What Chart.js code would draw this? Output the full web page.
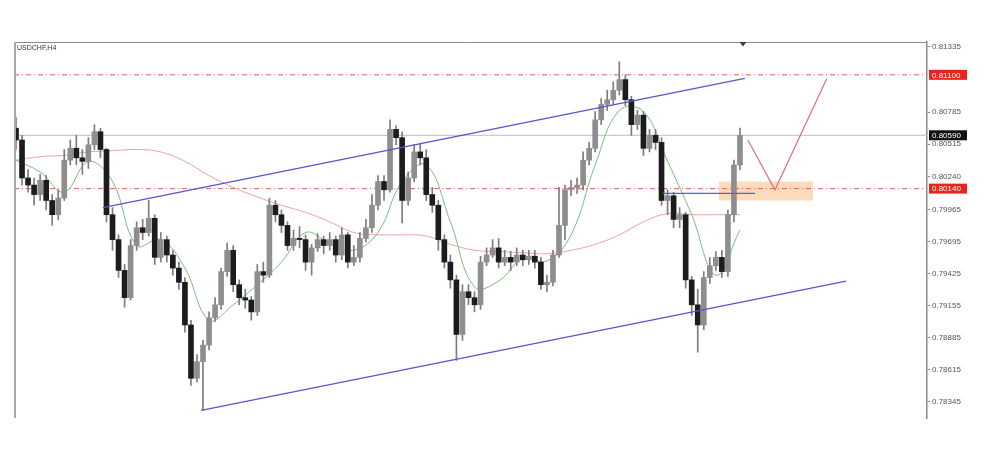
<!DOCTYPE html>
<html>
<head>
<meta charset="utf-8">
<title>USDCHF H4</title>
<script src="https://cdn.jsdelivr.net/npm/chart.js@4.4.1/dist/chart.umd.min.js"></script>
<style>
  body { margin: 0; background: #fff; }
  .wrap { position: relative; width: 1000px; height: 470px; }
</style>
</head>
<body>
<div class="wrap"><canvas id="chart"></canvas></div>
<script>
const symbolLabel = 'USDCHF,H4';

// candles (oldest -> newest)
const opens = [
  0.8065, 0.8055, 0.8023, 0.8017, 0.8009, 0.8021, 0.8004, 0.7992, 0.8006, 0.8038,
  0.8048, 0.8040, 0.8037, 0.8051, 0.8062, 0.8047, 0.7992, 0.7971, 0.7945, 0.7922,
  0.7966, 0.7981, 0.7977, 0.7989, 0.7956, 0.7971, 0.7958, 0.7947, 0.7935, 0.7899,
  0.7854, 0.7868, 0.7882, 0.7905, 0.7916, 0.7944, 0.7962, 0.7933, 0.7922, 0.7920,
  0.7910, 0.7944, 0.7941, 0.8000, 0.7992, 0.7983, 0.7966, 0.7972, 0.7971, 0.7952,
  0.7964, 0.7971, 0.7966, 0.7971, 0.7958, 0.7975, 0.7952, 0.7956, 0.7972, 0.7981,
  0.8000, 0.8020, 0.8013, 0.8064, 0.8057, 0.8004, 0.8023, 0.8045, 0.8040, 0.8009,
  0.8000, 0.7971, 0.7952, 0.7937, 0.7891, 0.7927, 0.7922, 0.7916, 0.7952, 0.7958,
  0.7964, 0.7952, 0.7956, 0.7952, 0.7958, 0.7954, 0.7957, 0.7952, 0.7933, 0.7935,
  0.7958, 0.7983, 0.8013, 0.8015, 0.8017, 0.8038, 0.8048, 0.8072, 0.8085, 0.8089,
  0.8097, 0.8106, 0.8089, 0.8068, 0.8076, 0.8048, 0.8059, 0.8053, 0.8004, 0.8008,
  0.7988, 0.7992, 0.7937, 0.7916, 0.7899, 0.7939, 0.7949, 0.7956, 0.7944, 0.7992,
  0.8034
];
const highs = [
  0.8074, 0.8059, 0.8030, 0.8023, 0.8026, 0.8025, 0.8009, 0.8013, 0.8047, 0.8055,
  0.8059, 0.8047, 0.8057, 0.8068, 0.8065, 0.8048, 0.7998, 0.7975, 0.7950, 0.7971,
  0.7986, 0.7988, 0.8004, 0.7992, 0.7977, 0.7974, 0.7962, 0.7952, 0.7939, 0.7903,
  0.7874, 0.7886, 0.7910, 0.7922, 0.7947, 0.7968, 0.7966, 0.7937, 0.7929, 0.7923,
  0.7950, 0.7952, 0.8006, 0.8004, 0.7996, 0.7986, 0.7979, 0.7982, 0.7975, 0.7967,
  0.7976, 0.7974, 0.7977, 0.7974, 0.7981, 0.7977, 0.7966, 0.7977, 0.7988, 0.8009,
  0.8025, 0.8025, 0.8072, 0.8067, 0.8062, 0.8028, 0.8051, 0.8052, 0.8047, 0.8015,
  0.8004, 0.7975, 0.7958, 0.7941, 0.7933, 0.7933, 0.7927, 0.7957, 0.7964, 0.7971,
  0.7972, 0.7962, 0.7961, 0.7964, 0.7962, 0.7962, 0.7962, 0.7956, 0.7941, 0.7962,
  0.8015, 0.8017, 0.8021, 0.8023, 0.8045, 0.8053, 0.8079, 0.8090, 0.8097, 0.8104,
  0.8121, 0.8110, 0.8092, 0.8080, 0.8079, 0.8064, 0.8064, 0.8057, 0.8013, 0.8011,
  0.7998, 0.7994, 0.7940, 0.7929, 0.7944, 0.7956, 0.7961, 0.7962, 0.7996, 0.8038,
  0.8065
];
const lows = [
  0.8047, 0.8017, 0.8011, 0.8000, 0.8004, 0.7996, 0.7983, 0.7988, 0.8004, 0.8034,
  0.8034, 0.8026, 0.8031, 0.8047, 0.8040, 0.7986, 0.7962, 0.7939, 0.7914, 0.7920,
  0.7962, 0.7971, 0.7974, 0.7950, 0.7952, 0.7952, 0.7941, 0.7929, 0.7893, 0.7848,
  0.7851, 0.7827, 0.7878, 0.7902, 0.7912, 0.7940, 0.7927, 0.7916, 0.7913, 0.7903,
  0.7907, 0.7935, 0.7939, 0.7986, 0.7977, 0.7962, 0.7962, 0.7964, 0.7945, 0.7941,
  0.7961, 0.7959, 0.7962, 0.7952, 0.7954, 0.7947, 0.7949, 0.7952, 0.7969, 0.7977,
  0.7996, 0.8004, 0.8011, 0.8051, 0.7985, 0.8000, 0.8020, 0.8034, 0.8004, 0.7994,
  0.7962, 0.7947, 0.7930, 0.7869, 0.7886, 0.7916, 0.7910, 0.7912, 0.7949, 0.7956,
  0.7947, 0.7949, 0.7945, 0.7949, 0.7949, 0.7950, 0.7947, 0.7929, 0.7927, 0.7932,
  0.7956, 0.7971, 0.8008, 0.8010, 0.8013, 0.8034, 0.8045, 0.8068, 0.8080, 0.8085,
  0.8093, 0.8084, 0.8059, 0.8064, 0.8042, 0.8045, 0.8047, 0.8000, 0.7992, 0.7981,
  0.7981, 0.7930, 0.7907, 0.7876, 0.7895, 0.7934, 0.7945, 0.7939, 0.7940, 0.7986,
  0.8030
];
const closes = [
  0.8055, 0.8023, 0.8017, 0.8009, 0.8021, 0.8004, 0.7992, 0.8006, 0.8038, 0.8048,
  0.8040, 0.8037, 0.8051, 0.8062, 0.8047, 0.7992, 0.7971, 0.7945, 0.7922, 0.7966,
  0.7981, 0.7977, 0.7989, 0.7956, 0.7971, 0.7958, 0.7947, 0.7935, 0.7899, 0.7854,
  0.7868, 0.7882, 0.7905, 0.7916, 0.7944, 0.7962, 0.7933, 0.7922, 0.7920, 0.7910,
  0.7944, 0.7941, 0.8000, 0.7992, 0.7983, 0.7966, 0.7972, 0.7971, 0.7952, 0.7964,
  0.7971, 0.7966, 0.7971, 0.7958, 0.7975, 0.7952, 0.7956, 0.7972, 0.7981, 0.8000,
  0.8020, 0.8013, 0.8064, 0.8057, 0.8004, 0.8023, 0.8045, 0.8040, 0.8009, 0.8000,
  0.7971, 0.7952, 0.7937, 0.7891, 0.7927, 0.7922, 0.7916, 0.7952, 0.7958, 0.7964,
  0.7952, 0.7956, 0.7952, 0.7958, 0.7954, 0.7957, 0.7952, 0.7933, 0.7935, 0.7958,
  0.7983, 0.8013, 0.8015, 0.8017, 0.8038, 0.8048, 0.8072, 0.8085, 0.8089, 0.8097,
  0.8106, 0.8089, 0.8068, 0.8076, 0.8048, 0.8059, 0.8053, 0.8004, 0.8008, 0.7988,
  0.7992, 0.7937, 0.7916, 0.7899, 0.7939, 0.7949, 0.7956, 0.7944, 0.7992, 0.8034,
  0.8059
];

// moving averages, one reading every maStep candles
const maStep = 4;
const fastMa = [
  0.8038, 0.8028, 0.8011, 0.8037, 0.8020, 0.7966, 0.7971, 0.7947, 0.7903, 0.7916,
  0.7933, 0.7952, 0.7977, 0.7968, 0.7962, 0.7977, 0.8020, 0.8034, 0.7986, 0.7931,
  0.7936, 0.7955, 0.7953, 0.7975, 0.8034, 0.8080, 0.8079, 0.8037, 0.7992, 0.7941,
  0.7979
];
const slowMa = [
  0.8038, 0.8041, 0.8042, 0.8045, 0.8046, 0.8047, 0.8045, 0.8037, 0.8025, 0.8015,
  0.8007, 0.8000, 0.7994, 0.7986, 0.7977, 0.7975, 0.7975, 0.7974, 0.7967, 0.7962,
  0.7961, 0.7960, 0.7959, 0.7962, 0.7967, 0.7975, 0.7986, 0.7993, 0.7992, 0.7992,
  0.7992
];

// drawn objects: [candle index, price]
const upperChannel = [[14.4, 0.7998], [120.8, 0.8107]];
const lowerChannel = [[30.7, 0.7827], [137.6, 0.7936]];
const supportStub = [[107.2, 0.8010], [122.5, 0.8010]];
const projection = [[121.3, 0.8055], [125.8, 0.8013], [134.4, 0.8107]];
const zoneX = [116.5, 132.1];
const zoneY = [0.8004, 0.8020];
const redLevels = [0.81100, 0.80140];
const lastPrice = 0.80590;
const priceTags = [0.81100, 0.80590, 0.80140];
const tagColors = ['#e8241c', '#111111', '#e8241c'];
const shiftMarkIdx = 120.5;

// axes
const tickValues = [0.78345, 0.78615, 0.78885, 0.79155, 0.79425, 0.79695, 0.79965, 0.80240, 0.80515, 0.80785, 0.81335];
const yMin = 0.78205, yMax = 0.81377;
const xMin = -0.33, xMax = 151;

const pts = arr => arr.map(p => ({ x: p[0], y: p[1] }));
const flat = v => [{ x: xMin, y: v }, { x: xMax, y: v }];

const wickData = closes.map((c, i) => ({ x: i, y: [lows[i], highs[i]] }));
const bodyData = closes.map((c, i) => ({ x: i, y: [opens[i], c] }));
const bodyColors = closes.map((c, i) => c < opens[i] ? '#1c1c1c' : '#8e8e8e');

const overlay = {
  id: 'overlay',
  afterDraw(chart) {
    const { ctx, chartArea: a, scales: { x, y } } = chart;
    ctx.save();
    // frame
    ctx.strokeStyle = '#8c8c8c';
    ctx.lineWidth = 1;
    ctx.beginPath();
    ctx.moveTo(a.left, a.top + 0.5);
    ctx.lineTo(a.right, a.top + 0.5);
    ctx.stroke();
    ctx.strokeStyle = '#a8a8a8';
    ctx.lineWidth = 2;
    ctx.beginPath();
    ctx.moveTo(a.left + 1, a.top);
    ctx.lineTo(a.left + 1, a.bottom);
    ctx.stroke();

    // symbol
    ctx.fillStyle = '#333';
    ctx.font = '7px "Liberation Sans"';
    ctx.textBaseline = 'top';
    ctx.fillText(symbolLabel, a.left + 3, a.top + 3);

    // price tags on the axis
    ctx.font = '8px "Liberation Sans"';
    ctx.textBaseline = 'middle';
    priceTags.forEach((p, k) => {
      const py = y.getPixelForValue(p);
      ctx.fillStyle = tagColors[k];
      ctx.fillRect(a.right + 2, py - 5, 38, 10);
      ctx.fillStyle = '#fff';
      ctx.fillText(p.toFixed(5), a.right + 5, py + 0.5);
    });

    // chart shift marker
    const sx = x.getPixelForValue(shiftMarkIdx);
    ctx.fillStyle = '#34405e';
    ctx.beginPath();
    ctx.moveTo(sx - 3.5, a.top);
    ctx.lineTo(sx + 3.5, a.top);
    ctx.lineTo(sx, a.top + 4.5);
    ctx.closePath();
    ctx.fill();
    ctx.restore();
  }
};

new Chart(document.getElementById('chart'), {
  type: 'bar',
  data: {
    datasets: [
      {
        type: 'line', order: 10,
        data: [{ x: zoneX[0], y: zoneY[1] }, { x: zoneX[1], y: zoneY[1] }],
        borderWidth: 0, pointRadius: 0,
        fill: { value: zoneY[0] },
        backgroundColor: 'rgba(249, 196, 140, 0.6)'
      },
      {
        type: 'line', order: 9, data: flat(redLevels[0]),
        borderColor: '#e65a5a', borderWidth: 1, borderDash: [5, 3, 1, 3], pointRadius: 0
      },
      {
        type: 'line', order: 9, data: flat(redLevels[1]),
        borderColor: '#e65a5a', borderWidth: 1, borderDash: [5, 3, 1, 3], pointRadius: 0
      },
      {
        type: 'line', order: 9, data: flat(lastPrice),
        borderColor: '#bdbdbd', borderWidth: 1, pointRadius: 0
      },
      {
        type: 'line', order: 7,
        data: slowMa.map((v, k) => ({ x: k * maStep, y: v })),
        borderColor: '#eba3a3', borderWidth: 1, pointRadius: 0, tension: 0.4
      },
      {
        type: 'line', order: 6,
        data: fastMa.map((v, k) => ({ x: k * maStep, y: v })),
        borderColor: '#7cba7c', borderWidth: 1, pointRadius: 0, tension: 0.4
      },
      {
        order: 5, data: wickData, grouped: false,
        barThickness: 1, backgroundColor: '#7c7c7c'
      },
      {
        order: 4, data: bodyData, grouped: false,
        barThickness: 5, minBarLength: 1, backgroundColor: bodyColors
      },
      {
        type: 'line', order: 3, data: pts(upperChannel),
        borderColor: '#5656cc', borderWidth: 1.2, pointRadius: 0
      },
      {
        type: 'line', order: 3, data: pts(lowerChannel),
        borderColor: '#5656cc', borderWidth: 1.2, pointRadius: 0
      },
      {
        type: 'line', order: 2, data: pts(supportStub),
        borderColor: '#5566c4', borderWidth: 1.2, pointRadius: 0
      },
      {
        type: 'line', order: 1, data: pts(projection),
        borderColor: '#e0707c', borderWidth: 1.2, pointRadius: 0
      }
    ]
  },
  options: {
    responsive: true,
    maintainAspectRatio: false,
    animation: false,
    events: [],
    layout: { padding: { left: 14, top: 42, right: 0, bottom: 52 } },
    plugins: {
      legend: { display: false },
      tooltip: { enabled: false }
    },
    scales: {
      x: {
        type: 'linear', min: xMin, max: xMax, offset: false, display: false
      },
      y: {
        position: 'right', min: yMin, max: yMax,
        afterBuildTicks: scale => { scale.ticks = tickValues.map(v => ({ value: v })); },
        afterFit: scale => { scale.width = 73; },
        border: { display: true, color: '#8a8a8a', width: 1.5 },
        grid: { drawOnChartArea: false, drawTicks: true, tickLength: 3, color: '#8a8a8a' },
        ticks: {
          padding: 2,
          color: '#555',
          font: { family: 'Liberation Sans', size: 8 },
          callback: v => v.toFixed(5)
        }
      }
    }
  },
  plugins: [overlay]
});
</script>
</body>
</html>
